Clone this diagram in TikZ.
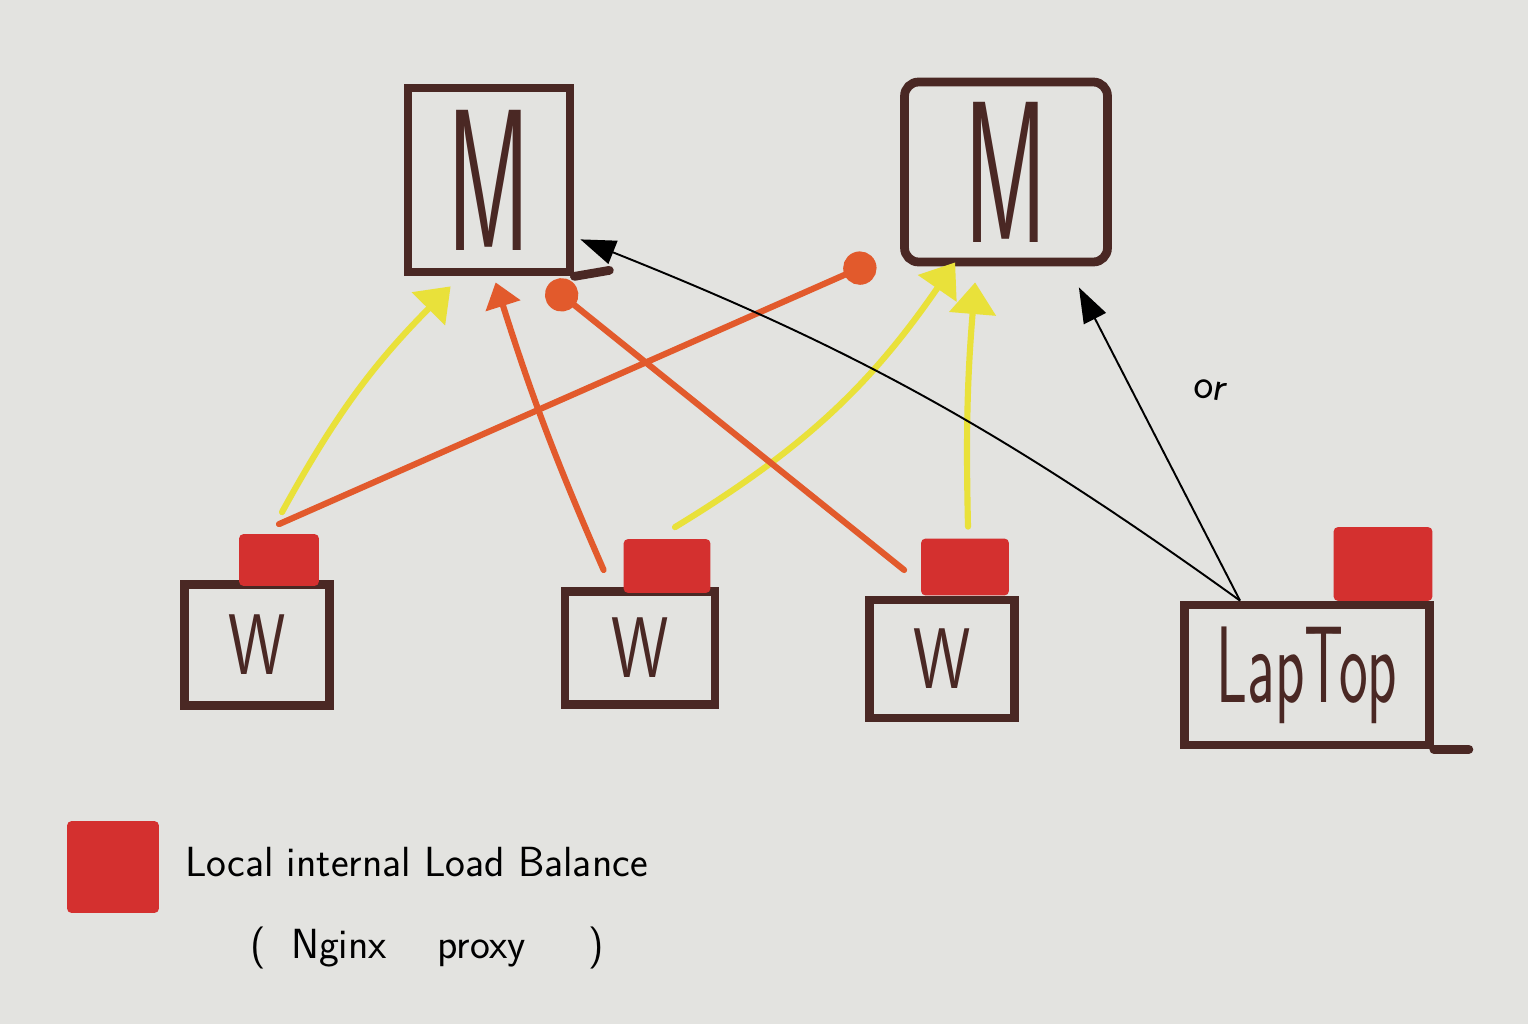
\documentclass[tikz,border=0pt]{standalone}
\usetikzlibrary{arrows.meta,calc}
\definecolor{paper}{HTML}{E3E3E0}
\definecolor{mbrown}{HTML}{4A2824}
\definecolor{myel}{HTML}{E9E13A}
\definecolor{mora}{HTML}{E25A2C}
\definecolor{lbred}{HTML}{D4302F}
\begin{document}
\begin{tikzpicture}[x=0.02cm,y=-0.02cm,
  boxst/.style={draw=mbrown, line width=5pt, inner sep=0pt, text=mbrown, font=\sffamily},
  lbbox/.style={fill=lbred, draw=lbred, line width=1pt, inner sep=0pt, rounded corners=2pt},
  brownline/.style={draw=mbrown, line width=5pt, line cap=round},
  yelarrow/.style={draw=myel, line width=3.5pt, line cap=round, -{Triangle[width=26pt,length=18pt]}},
  oraarrow/.style={draw=mora, line width=3.5pt, line cap=round, -{Triangle[width=20pt,length=14pt]}},
  oradot/.style={draw=mora, line width=3.5pt, line cap=round, -{Circle[length=19pt]}},
  blkarrow/.style={draw=black, line width=1.1pt, -{Triangle[width=14pt,length=20pt]}},
  legtext/.style={font=\sffamily\fontsize{24}{28}\selectfont, text=black, anchor=west, inner sep=0pt}
]
\fill[paper] (0,0) rectangle (1528,1024);
\useasboundingbox (0,0) rectangle (1528,1024);

% Masters
\node[boxst, minimum width=3.24cm, minimum height=3.68cm] (m1) at (489,180)
  {\scalebox{0.5}[1]{\fontsize{115}{115}\selectfont M}};
\node[boxst, rounded corners=8pt, minimum width=4.06cm, minimum height=3.6cm] (m2) at (1006,172)
  {\scalebox{0.5}[1]{\fontsize{115}{115}\selectfont M}};
\draw[brownline] (m1.south east) -- ++(35,-6);

% Workers
\node[boxst, minimum width=2.9cm, minimum height=2.42cm] (w1) at (257,645)
  {\scalebox{0.75}[1]{\fontsize{49}{49}\selectfont W}};
\node[boxst, minimum width=3.0cm, minimum height=2.26cm] (w2) at (640,648)
  {\scalebox{0.75}[1]{\fontsize{49}{49}\selectfont W}};
\node[boxst, minimum width=2.9cm, minimum height=2.36cm] (w3) at (942,659)
  {\scalebox{0.75}[1]{\fontsize{49}{49}\selectfont W}};
\node[boxst, minimum width=4.9cm, minimum height=2.8cm] (lap) at (1307,675)
  {\scalebox{0.56}[1]{\fontsize{62}{62}\selectfont LapTop}};
\draw[brownline] (lap.south east) -- ++(35,0);

% Local load balancers
\node[lbbox, minimum width=1.56cm, minimum height=1.0cm] (lb1) at (279,560) {};
\node[lbbox, minimum width=1.7cm, minimum height=1.04cm] (lb2) at (667,566) {};
\node[lbbox, minimum width=1.72cm, minimum height=1.1cm] (lb3) at (965,567) {};
\node[lbbox, minimum width=1.94cm, minimum height=1.44cm] (lb4) at (1383,564) {};

% connection points
\coordinate (o1end) at ($(m2.south west)+(-25,-5)$);
\coordinate (o2start) at ($(lb2.west)+(-20,4)$);
\coordinate (o3start) at ($(lb3.west)+(-17,3)$);
\coordinate (y1end) at ($(m1.south west)+(47,10)$);
\coordinate (o2end) at ($(m1.south west)+(92,6)$);
\coordinate (o3end) at ($(m1.south west)+(145,8)$);
\coordinate (y2end) at ($(m2.south west)+(55,-4)$);
\coordinate (y3end) at ($(m2.south west)+(75,16)$);
\coordinate (lt) at ($(lap.north)+(-67,0)$);
\coordinate (k1end) at ($(m1.south east)+(6,-37)$);
\coordinate (k2end) at ($(m2.south east)+(-33,21)$);

% yellow links
\draw[yelarrow] ($(lb1.north)+(3,-22)$) to[bend left=8] (y1end);
\draw[yelarrow] ($(lb2.north)+(8,-12)$) to[bend right=12] (y2end);
\draw[yelarrow] ($(lb3.north)+(3,-12)$) to[bend left=3] (y3end);

% orange links
\draw[oradot] ($(lb1.north)+(0,-10)$) -- (o1end);
\draw[oraarrow] (o2start) to[bend left=3] (o2end);
\draw[oradot] (o3start) -- (o3end);

% laptop links
\draw[blkarrow] (lt) to[bend right=7] (k1end);
\draw[blkarrow] (lt) -- (k2end);
\node[font=\sffamily\fontsize{24}{24}\selectfont, rotate=-10] (orlbl) at (1210,390) {or};

% legend
\node[lbbox, minimum size=1.8cm] (leg) at (113,867) {};
\node[legtext] (leg1) at (185,862) {Local internal Load Balance};
\node[legtext] (leg2) at (250,948) {(\hspace{0.6em}Nginx\hspace{1.2em}proxy\hspace{1.5em})};
\end{tikzpicture}
\end{document}
